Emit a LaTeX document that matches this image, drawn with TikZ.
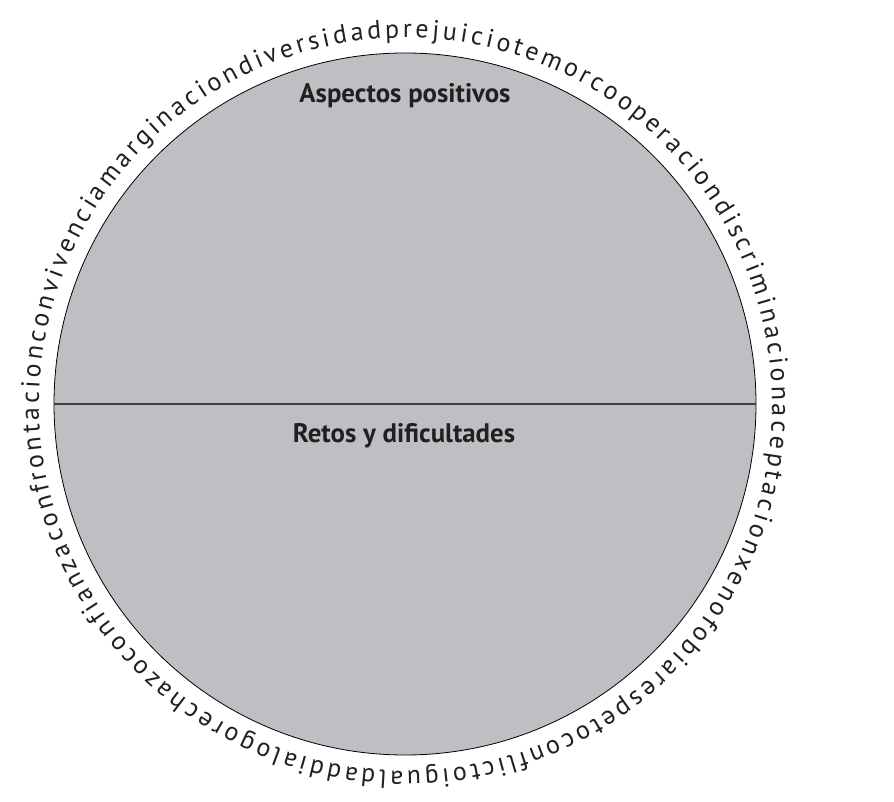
\documentclass[tikz,border=0pt]{standalone}
\usepackage{fontspec}
\setmainfont{PT Sans}
\usetikzlibrary{decorations.text}
\definecolor{discgray}{RGB}{190,191,194}
\definecolor{divline}{RGB}{60,60,60}
\definecolor{inkdark}{RGB}{35,31,32}
\tikzset{
  disc/.style={circle, draw=black, fill=discgray, minimum size=702pt, inner sep=0pt, line width=0.8pt},
  divider/.style={draw=divline, line width=1.3pt},
  heading/.style={anchor=base, inner sep=0pt, text=inkdark, font=\bfseries\fontsize{26.8}{31}\selectfont},
  ring/.style={decorate, decoration={text along path, text align={fit to path, right indent=5pt},
     text={|\color{inkdark}\fontsize{26}{30}\selectfont|confrontacionconvivenciamarginaciondiversidadprejuiciotemorcooperaciondiscriminacionaceptacionxenofobiarespetoconflictoigualdaddialogorechazoconfianza}}}
}
\begin{document}
\begin{tikzpicture}[x=1pt,y=1pt]
\useasboundingbox (0,0) rectangle (894,801);
\node[disc] (disc) at (405,397) {};
\draw[divider] (disc.west) -- (disc.east);
\node[heading] (pos) at (405,698) {Aspectos positivos};
\node[heading] (neg) at (404,358) {Retos y dificultades};
\coordinate (ringc) at (405.5,396.5);
\path[ring] ([shift={(201.5:366.5)}]ringc) arc[start angle=201.5, end angle=-158.5, radius=366.5];
\end{tikzpicture}
\end{document}
